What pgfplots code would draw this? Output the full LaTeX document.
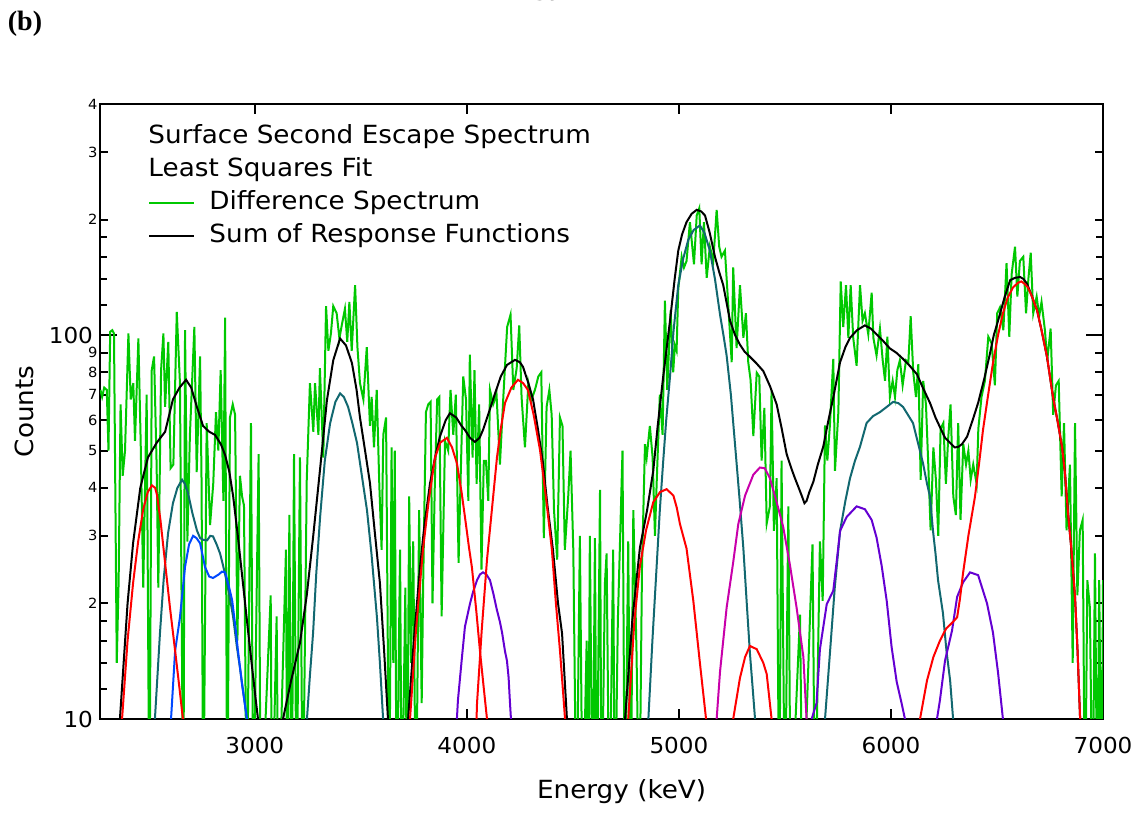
\documentclass[border=0pt]{standalone}
\usepackage{pgfplots}
\pgfplotsset{compat=1.18}
\usepackage{fontspec}
\setmainfont{DejaVu Sans}[FakeStretch=1.05]
\newfontfamily\serifb{Liberation Serif}
\definecolor{specgreen}{RGB}{0,200,0}
\definecolor{compteal}{RGB}{18,104,112}
\definecolor{compblue}{RGB}{0,72,255}
\definecolor{compred}{RGB}{255,0,0}
\definecolor{comppurple}{RGB}{100,0,210}
\definecolor{compmag}{RGB}{200,0,170}
\begin{document}
\begin{tikzpicture}
\path[use as bounding box] (-50pt,-46.5pt) rectangle (521.5pt,359.5pt);
\begin{axis}[
  scale only axis, width=501.5pt, height=307.5pt,
  xmin=2270, xmax=7000, ymin=10, ymax=400, ymode=log,
  axis line style={line width=1.3pt},
  tick style={line width=1pt, black},
  tick align=inside,
  major tick length=8.5pt, minor tick length=3.5pt,
  xtick=\empty,
  extra x ticks={3000,4000,5000,6000,7000},
  extra x tick labels={3000,4000,5000,6000,7000},
  extra x tick style={major tick length=5pt},
  minor xtick={2300,2400,...,7000},
  ytick={10,100}, yticklabels={10,100},
  extra y ticks={20,30,40,50,60,70,80,90,200,300,400},
  extra y tick labels={2,3,4,5,6,7,8,9,2,3,4},
  extra y tick style={major tick length=4pt,
    yticklabel style={font=\fontsize{7}{8}\selectfont, inner sep=1pt}},
  minor ytick={12,14,16,18,120,140,160,180},
  tick label style={font=\fontsize{11}{13}\selectfont},
  xticklabel style={yshift=-5.5pt},
  xlabel={Energy (keV)}, ylabel={Counts},
  label style={font=\fontsize{12.5}{14}\selectfont},
  xlabel style={at={(axis description cs:0.52,-0.118)}, anchor=center},
  ylabel style={at={(axis description cs:-0.075,0.5)}, anchor=center},
  every axis plot/.append style={line width=1pt, no markers},
  legend cell align=left,
  legend image code/.code={\draw[#1] (0pt,0pt) -- (22.5pt,0pt); \path (29.5pt,0pt);},
  legend style={draw=none, fill=none, inner sep=0pt,
    at={(axis description cs:0.0479,0.965)}, anchor=north west,
    font=\fontsize{12.5}{14}\selectfont, row sep=5pt,
    nodes={inner sep=0pt, text height=9pt, text depth=2.5pt}},
]
\addlegendimage{empty legend}
\addlegendentry{\hspace*{-30.5pt}Surface Second Escape Spectrum}
\addlegendimage{empty legend}
\addlegendentry{\hspace*{-30.5pt}Least Squares Fit}

% difference spectrum
\addplot[specgreen] coordinates {
(2272,72) (2280,69) (2290,73) (2302,72) (2310,50) (2318,102) (2328,103) (2336,101)
(2349,14) (2358,23) (2367,66) (2377,43) (2388,50) (2404,101) (2415,68) (2427,75)
(2435,53) (2451,98) (2462,52) (2474,22) (2490,70) (2503,5) (2514,81) (2525,88)
(2537,46) (2545,22) (2558,81) (2569,101) (2577,65) (2592,96) (2603,45) (2616,46)
(2632,115) (2647,75) (2663,5) (2671,103) (2682,29) (2694,55) (2715,105) (2726,44)
(2742,88) (2749,41) (2757,5) (2773,59) (2789,32) (2804,41) (2817,63) (2828,50)
(2839,81) (2852,37) (2860,111) (2870,5) (2883,61) (2896,66) (2907,62) (2918,16)
(2930,43) (2940,38) (2949,36) (2962,5) (2982,59) (2993,5) (3018,49) (3028,5)
(3075,21) (3081,5) (3103,18.5) (3111,5) (3147,27.6) (3153,5) (3163,34) (3174,5)
(3185,49) (3197,5) (3213,48) (3226,5) (3245,42) (3260,75) (3276,56) (3284,75)
(3300,55) (3307,82) (3323,48) (3336,119) (3347,91) (3359,101) (3370,119) (3386,114)
(3399,98) (3410,106) (3425,117) (3436,96) (3446,122) (3457,91) (3473,135) (3484,93)
(3496,75) (3512,68) (3528,93) (3543,58) (3551,69) (3562,51) (3575,72) (3587,41)
(3598,27.6) (3606,55) (3619,61) (3634,5) (3645,51) (3653,14) (3660,50) (3669,5)
(3685,27.6) (3693,5) (3710,22) (3718,5) (3728,38) (3737,14) (3747,29) (3760,5)
(3775,35) (3787,11) (3794,22.5) (3807,63) (3818,66) (3829,67) (3838,20) (3849,41)
(3860,68) (3870,69) (3881,18.5) (3897,53) (3912,50) (3923,72) (3936,55) (3948,70)
(3961,25.5) (3970,41) (3983,78) (3996,68) (4007,37) (4014,89) (4027,48) (4036,81)
(4046,41) (4058,66) (4069,24.5) (4080,47) (4090,47) (4101,37) (4109,72) (4124,66)
(4140,70) (4156,46) (4172,69) (4190,105) (4206,113) (4219,72) (4235,82) (4247,106)
(4258,69) (4274,51) (4290,75) (4305,68) (4321,72) (4337,78) (4351,80) (4363,29.6)
(4376,65) (4389,72) (4400,62) (4411,35) (4426,26) (4439,61) (4451,58) (4462,27.6)
(4478,38) (4489,50) (4502,27.6) (4517,5) (4533,30) (4546,5) (4565,16) (4572,5)
(4580,30) (4593,5) (4604,29.6) (4612,5) (4628,39.5) (4635,5) (4651,22.5) (4659,27)
(4672,5) (4690,27.6) (4698,5) (4712,18) (4722,28.6) (4734,50) (4745,5) (4761,29)
(4772,5) (4785,35) (4800,15) (4813,5) (4826,25) (4840,52) (4848,48) (4863,58)
(4876,48) (4887,30) (4895,41) (4910,70) (4923,55) (4934,123) (4945,72) (4961,116)
(4973,80) (4981,94) (4989,91) (4997,132) (5013,160) (5024,150) (5036,156) (5052,197)
(5071,153) (5084,205) (5096,214) (5107,153) (5118,197) (5131,141) (5146,170) (5162,156)
(5178,212) (5190,170) (5201,160) (5217,166) (5233,119) (5249,85) (5256,150) (5272,92.5)
(5288,135) (5304,98.4) (5316,114) (5327,85) (5338,76.4) (5351,54.6) (5367,79.8) (5379,78)
(5390,47.1) (5403,64.6) (5414,32.3) (5429,35.8) (5437,71.8) (5448,30.9) (5461,42.4) (5473,5)
(5484,47.1) (5500,5) (5516,35.8) (5527,5) (5571,18.7) (5583,5) (5630,28.5) (5642,5)
(5665,29) (5678,20.3) (5689,58.2) (5700,47.1) (5712,58.2) (5728,86.7) (5736,44.3) (5752,63.1)
(5763,138) (5775,105) (5788,135) (5799,98.4) (5810,135) (5822,98.4) (5838,83.2) (5854,135)
(5866,109) (5877,114) (5893,100.5) (5909,129) (5917,98.4) (5932,88.5) (5948,104) (5961,86)
(5972,76) (5983,99) (5995,69) (6008,76) (6019,69) (6030,81) (6042,86) (6055,74)
(6071,86) (6082,85) (6093,112) (6105,80) (6118,69) (6129,84) (6140,42) (6152,76)
(6165,66) (6176,46) (6187,31) (6200,51) (6212,42) (6223,30) (6234,57) (6247,59)
(6259,41) (6270,54) (6281,66) (6294,38) (6306,34) (6317,59) (6328,33) (6341,52)
(6354,46) (6365,50) (6376,42) (6388,46) (6404,41) (6412,57) (6427,69) (6443,76)
(6459,99) (6475,95) (6490,74) (6501,114) (6514,118) (6530,103) (6545,154) (6558,99)
(6569,144) (6585,170) (6596,126) (6608,156) (6624,160) (6637,114) (6648,140) (6659,164)
(6671,114) (6687,126) (6699,112) (6710,122) (6726,103) (6737,86) (6753,104) (6765,62)
(6778,74) (6791,76) (6805,38) (6816,59) (6828,31) (6844,46) (6857,14) (6868,59)
(6879,21) (6891,31) (6904,33) (6915,5) (6926,23) (6938,19.5) (6951,5) (6962,27)
(6973,5) (6982,23) (6993,5) (7000,23)
};
\addlegendentry{Difference Spectrum}

% sum of response functions
\addplot[black] coordinates {
(2355,8) (2364,10) (2400,20) (2426,28.7) (2460,40) (2496,48) (2538,52.5) (2577,56)
(2614,68) (2645,73) (2676,76.5) (2700,73) (2727,65) (2756,58) (2785,56) (2812,55)
(2840,52) (2860,48.7) (2880,44) (2898,38) (2920,30) (2944,22.6) (2968,17) (2992,12.9)
(3015,10) (3070,5) (3133,10) (3170,12.5) (3213,15.8) (3245,21) (3275,29.8) (3310,46)
(3340,67.6) (3370,86) (3402,98) (3430,94) (3458,84.6) (3480,72) (3496,61) (3520,50)
(3543,41.2) (3565,31) (3590,22.6) (3610,15) (3628,10) (3670,5) (3723,10) (3750,16)
(3779,24.8) (3800,32) (3826,41) (3850,48) (3873,54.4) (3900,60) (3920,62.6) (3950,61)
(3975,58) (3991,56.6) (4015,54) (4038,52.7) (4060,54) (4076,56.6) (4100,62) (4133,70.5)
(4160,78) (4189,83.6) (4227,86.2) (4250,85) (4265,82.6) (4290,75) (4312,68) (4335,57)
(4359,46.4) (4380,36) (4406,27.6) (4430,20) (4449,16.7) (4472,10) (4600,5) (4746,10)
(4780,18) (4816,27.9) (4850,35) (4879,44.3) (4900,58) (4926,78) (4958,109) (4980,140)
(4997,166) (5015,183) (5036,197) (5060,207) (5084,212) (5105,210) (5123,205) (5145,185)
(5170,160) (5190,146) (5209,135) (5241,109) (5265,100) (5288,94.4) (5310,90.5) (5335,87.8)
(5365,84.5) (5398,80.6) (5430,73.5) (5461,66) (5485,57) (5508,49) (5530,45) (5547,42.4)
(5565,40) (5579,38.2) (5592,36.5) (5602,37) (5615,39) (5634,41.5) (5655,46) (5681,51.3)
(5705,60) (5728,68.8) (5745,77) (5760,85) (5785,93) (5807,98.4) (5840,103) (5877,106)
(5905,104) (5932,100.5) (5960,97) (5995,92.3) (6025,90) (6058,86.6) (6090,83) (6123,79)
(6150,73) (6184,66.6) (6210,61) (6231,57.6) (6255,54) (6279,52.4) (6300,51) (6316,51.1)
(6335,52) (6359,54.4) (6385,60) (6411,66.6) (6440,77) (6467,89.6) (6485,100) (6505,109)
(6535,125) (6562,139) (6585,141) (6609,141.7) (6625,140) (6642,136) (6665,126) (6689,116)
(6710,103) (6736,87.7) (6764,69) (6785,60) (6807,51) (6820,44) (6835,34.4) (6850,28)
(6868,20.8) (6880,15) (6892,10) (6900,8)
};
\addlegendentry{Sum of Response Functions}

% teal components
\addplot[compteal, forget plot] coordinates {
(2520,8) (2529,10) (2553,16.8) (2570,23) (2591,30.5) (2614,36.5) (2635,40) (2657,42)
(2670,41) (2685,38.8) (2705,34.5) (2727,31) (2742,29.6) (2756,29.3) (2775,29.2) (2790,30)
(2803,29.9) (2820,28.5) (2836,27) (2855,24.5) (2869,22.6) (2885,20.3) (2898,18.4) (2915,15.5)
(2930,13.6) (2945,11.8) (2963,10) (2975,8)
};
\addplot[compteal, forget plot] coordinates {
(3235,8) (3246,10) (3260,13) (3275,16.8) (3290,24) (3308,33.6) (3330,47) (3355,58.9)
(3380,67) (3402,70.5) (3420,69) (3440,65) (3460,59) (3482,52.4) (3505,43) (3529,35)
(3550,27) (3576,18.4) (3590,14) (3605,10) (3615,8)
};
\addplot[compteal, forget plot] coordinates {
(4845,8) (4856,10) (4875,16) (4895,25) (4910,35) (4926,47) (4940,60) (4958,78)
(4975,103) (4997,135) (5020,158) (5044,177) (5070,188) (5099,193) (5120,185) (5146,166)
(5170,140) (5194,113) (5210,100) (5225,88.5) (5245,70) (5264,52.4) (5285,38) (5304,27.8)
(5320,20) (5335,14.8) (5348,12) (5359,10) (5368,8)
};
\addplot[compteal, forget plot] coordinates {
(5680,8) (5689,10) (5712,14.8) (5735,22) (5760,30.9) (5785,37) (5807,42.4) (5830,47)
(5854,51.2) (5885,59) (5915,61.5) (5948,63) (5980,65) (6010,67) (6035,66.5) (6057,65)
(6080,62) (6104,59) (6125,53) (6151,46.4) (6170,41) (6184,38) (6198,31) (6210,27)
(6222,23) (6245,18.9) (6262,15) (6279,12.6) (6293,10) (6300,8)
};
% blue component
\addplot[compblue, forget plot] coordinates {
(2595,8) (2605,10) (2624,15) (2647,18.4) (2671,24.9) (2690,28.5) (2709,30) (2725,29.6)
(2742,28.7) (2755,26.5) (2765,24.9) (2785,23.5) (2803,23.3) (2830,23.8) (2845,24.2) (2860,24.1)
(2875,22.5) (2893,20.4) (2908,17.5) (2921,15) (2940,12.3) (2963,10) (2975,8)
};
% purple components
\addplot[comppurple, forget plot] coordinates {
(3945,8) (3953,10) (3958,11.2) (3977,14.5) (3991,17.4) (4015,20) (4030,21.5) (4048,23)
(4062,23.8) (4076,24.1) (4092,23.8) (4109,23) (4125,21.2) (4142,19.2) (4155,18) (4166,16.8)
(4180,15) (4189,14.2) (4197,12.8) (4203,11.1) (4208,10) (4215,8)
};
\addplot[comppurple, forget plot] coordinates {
(5615,8) (5626,10) (5649,11) (5665,15.2) (5697,19.9) (5728,21.6) (5745,26) (5760,30.9)
(5791,33.6) (5838,35.8) (5877,35.2) (5909,33) (5932,29.7) (5956,25.1) (5980,20.3) (6003,15.4)
(6027,12.5) (6050,11) (6066,10) (6075,8)
};
\addplot[comppurple, forget plot] coordinates {
(6205,8) (6217,10) (6231,11.2) (6255,14.2) (6288,17) (6312,20.8) (6340,22.7) (6373,24.1)
(6411,23.7) (6453,20) (6481,16.8) (6505,13.2) (6528,10) (6535,8)
};
% magenta component
\addplot[compmag, forget plot] coordinates {
(5170,8) (5178,10) (5194,13.3) (5225,19.5) (5256,25.6) (5280,32.2) (5312,38.2) (5351,43.3)
(5382,45.2) (5405,45) (5429,42.4) (5461,36.7) (5492,31.6) (5524,25.1) (5555,19.5) (5587,14.5)
(5602,10) (5610,8)
};
% red components
\addplot[compred, forget plot] coordinates {
(2360,8) (2374,10) (2400,16) (2426,22.6) (2450,29) (2473,35) (2495,39) (2515,40.6)
(2530,40) (2539,38.3) (2555,33) (2577,25.5) (2600,19.5) (2624,15.1) (2645,12) (2661,10) (2675,8)
};
\addplot[compred, forget plot] coordinates {
(3720,8) (3732,10) (3760,17) (3793,27.6) (3820,37) (3850,48) (3875,52.5) (3906,54)
(3930,51) (3953,46.4) (3975,39) (3991,33.6) (4010,28) (4024,24.8) (4045,19) (4062,15)
(4080,12) (4095,10) (4105,8)
};
\addplot[compred, forget plot] coordinates {
(4040,8) (4048,11) (4070,17) (4095,26) (4120,36) (4142,48) (4160,57) (4180,66.6)
(4210,73) (4241,76.5) (4265,75) (4288,72) (4315,62) (4345,50.2) (4375,37) (4401,27.6)
(4420,20) (4439,15.1) (4455,11.5) (4463,10) (4470,8)
};
\addplot[compred, forget plot] coordinates {
(4750,8) (4761,10) (4790,18) (4816,25) (4845,31) (4879,36.7) (4911,39) (4942,39.7)
(4974,38.2) (4990,35.5) (5005,32.2) (5036,27.8) (5068,20.3) (5099,14) (5128,10) (5140,8)
};
\addplot[compred, forget plot] coordinates {
(5245,8) (5256,10) (5288,12.8) (5312,14.5) (5335,15.5) (5367,15.2) (5398,14) (5414,13.1)
(5437,10) (5450,8)
};
\addplot[compred, forget plot] coordinates {
(6125,8) (6137,10) (6170,12.6) (6200,14.5) (6231,16) (6260,17.2) (6288,17.8) (6312,18.4)
(6325,20.5) (6340,24) (6365,30) (6396,37.9) (6415,46) (6434,56.6) (6455,68) (6481,84.6)
(6505,100) (6528,114) (6550,125) (6575,133) (6600,137) (6615,138) (6630,136) (6646,133)
(6665,126) (6689,116) (6710,103) (6736,87.7) (6764,69) (6785,60) (6807,51) (6820,44)
(6835,34.4) (6850,28) (6868,20.8) (6880,15) (6892,10) (6900,8)
};
\end{axis}
\node[font=\serifb\bfseries\fontsize{14}{16}\selectfont] at (-37.5pt,347.5pt) {(b)};
\node[font=\fontsize{12.5}{14}\selectfont, anchor=base] at (228.5pt,361.6pt) {Energy (keV)};
\end{tikzpicture}
\end{document}
